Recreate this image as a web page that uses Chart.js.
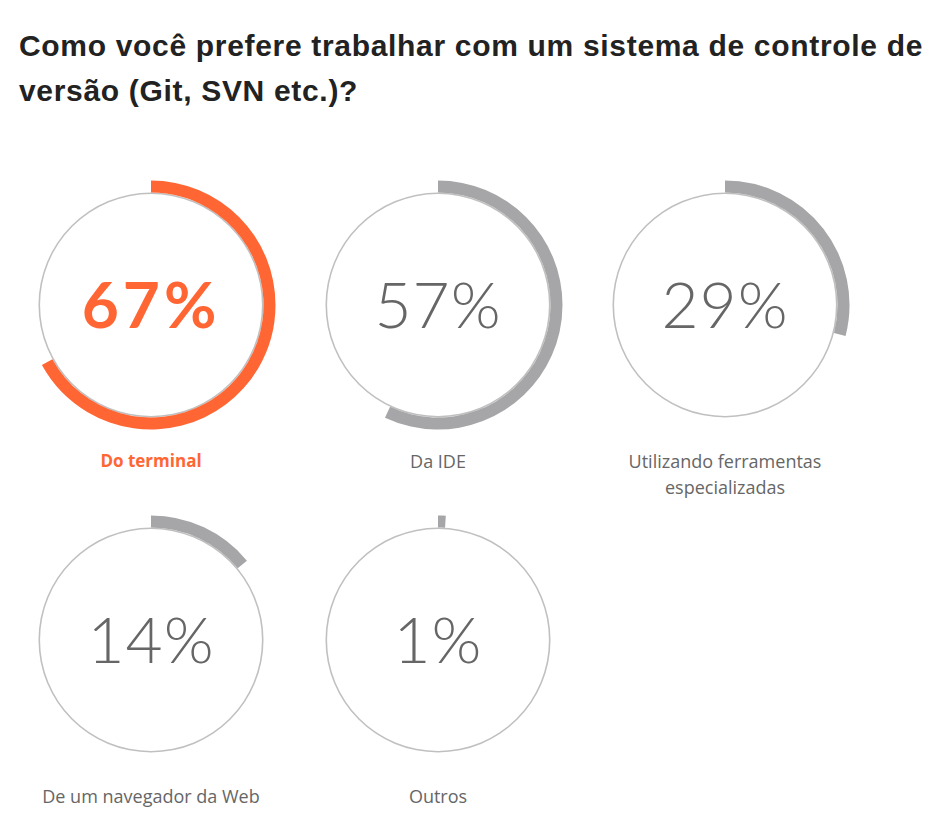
<!DOCTYPE html>
<html>
<head>
<meta charset="utf-8">
<script src="https://cdn.jsdelivr.net/npm/chart.js@4/dist/chart.umd.min.js"></script>
<style>
  html, body { margin: 0; padding: 0; background: #fff; }
  #page { position: relative; width: 940px; height: 825px; overflow: hidden; }
  #title { position: absolute; left: 19px; top: 23px; width: 915px;
    font-family: "Liberation Sans", Arial, sans-serif; font-weight: bold;
    font-size: 30px; line-height: 45px; letter-spacing: 0.68px; color: #222; }
  .gauge { position: absolute; width: 260px; height: 260px; }
  .gauge canvas { position: absolute; left: 0; top: 0; }
  .pct { position: absolute; left: 0; width: 260px; text-align: center;
    font-family: Lato, "Open Sans", sans-serif; font-weight: 300; font-size: 64px;
    line-height: 64px; letter-spacing: 1px; color: #666; white-space: nowrap; }
  .pct.hl { font-weight: 700; color: #ff6633; letter-spacing: 4px; }
  .lbl { position: absolute; width: 250px; text-align: center;
    font-family: "Open Sans", "Noto Sans", sans-serif; font-size: 18px; line-height: 26px;
    color: #666; }
  .lbl.hl { font-weight: 700; color: #ff6633; font-size: 17px; }
</style>
</head>
<body>
<div id="page">
  <div id="title">Como você prefere trabalhar com um sistema de controle de versão (Git, SVN etc.)?</div>
</div>
<script>
const categories = ['Do terminal', 'Da IDE', 'Utilizando ferramentas especializadas', 'De um navegador da Web', 'Outros'];
const values = [67, 57, 29, 14, 1];
const highlighted = [true, false, false, false, false];

const centersX = [151, 438, 725, 151, 438];
const centersY = [305, 305, 305, 640, 640];
const ORANGE = '#ff6633', GREY_ARC = '#a6a6a8', GREY_RING = '#c0c0c0';

const page = document.getElementById('page');
categories.forEach((cat, i) => {
  const cx = centersX[i], cy = centersY[i];
  const wrap = document.createElement('div');
  wrap.className = 'gauge';
  wrap.style.left = (cx - 130) + 'px';
  wrap.style.top = (cy - 130) + 'px';
  const canvas = document.createElement('canvas');
  canvas.width = 260; canvas.height = 260;
  canvas.style.width = '260px'; canvas.style.height = '260px';
  wrap.appendChild(canvas);
  const pct = document.createElement('div');
  pct.className = 'pct' + (highlighted[i] ? ' hl' : '');
  pct.style.top = (130 + 24 - 57) + 'px';
  pct.textContent = values[i] + '%';
  wrap.appendChild(pct);
  page.appendChild(wrap);

  const lbl = document.createElement('div');
  lbl.className = 'lbl' + (highlighted[i] ? ' hl' : '');
  lbl.style.left = (cx - 125) + 'px';
  lbl.style.top = (cy + 143) + 'px';
  lbl.textContent = cat;
  page.appendChild(lbl);

  const color = highlighted[i] ? ORANGE : GREY_ARC;
  new Chart(canvas, {
    type: 'doughnut',
    data: {
      labels: [cat, ''],
      datasets: [
        { data: [values[i], 100 - values[i]], backgroundColor: [color, 'rgba(0,0,0,0)'],
          borderWidth: 0, weight: 12 },
        { data: [100], backgroundColor: [GREY_RING], borderWidth: 0, weight: 1.6 }
      ]
    },
    options: {
      responsive: false,
      animation: false,
      events: [],
      radius: 124.5,
      cutout: '89.1%',
      layout: { padding: 0 },
      plugins: { legend: { display: false }, tooltip: { enabled: false } }
    }
  });
});
</script>
</body>
</html>
